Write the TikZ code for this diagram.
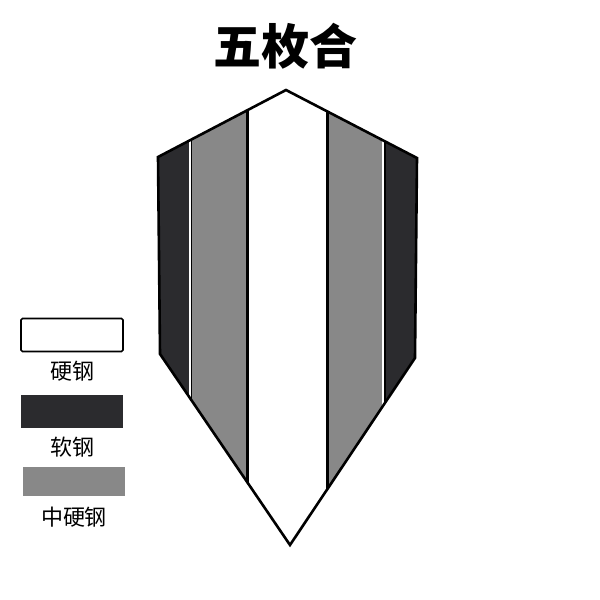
\documentclass[tikz,border=0pt]{standalone}
\usepackage{fontspec}
\newfontfamily\cjk{Noto Sans CJK SC}
\usetikzlibrary{positioning}
\definecolor{softgrey}{HTML}{2B2B2E}
\definecolor{midgrey}{HTML}{888888}
\begin{document}
\begin{tikzpicture}[x=1pt,y=-1pt]

      \tikzset{swatch/.style={minimum width=102pt, minimum height=33pt, inner sep=0pt},
               legendtext/.style={font=\cjk\fontsize{22pt}{24pt}\selectfont, inner sep=0pt},
               seam/.style={draw=black, line width=2.4pt},
               outline/.style={draw=black, line width=2.6pt, line join=miter}}
      \useasboundingbox (0,0) rectangle (600,600);
%% Title
      	\node[font=\cjk\bfseries\fontsize{48pt}{50pt}\selectfont, inner sep=0pt] (title) at (285,46) {五枚合};
%% Blade corners
      	\coordinate (apex) at (286,90);
      	\coordinate (tr) at (417,158);
      	\coordinate (br) at (415,358);
      	\coordinate (tip) at (290,545);
      	\coordinate (bl) at (160,354);
      	\coordinate (tl) at (158,157);
%Strips
	\begin{scope}
		\clip (apex) -- (tr) -- (br) -- (tip) -- (bl) -- (tl) -- cycle;
		\fill[white] (150,80) rectangle (430,560);
		\fill[softgrey] (150,80) rectangle (189,560);
		\fill[midgrey] (192,80) rectangle (246,560);
		\fill[midgrey] (329,80) rectangle (382,560);
		\fill[softgrey] (386,80) rectangle (430,560);
		\foreach \x/\w in {191.5/1.6, 247.5/2.4, 327.5/2.4, 385/2} {
			\draw[seam, line width=\w pt] (\x,80) -- (\x,560);
		}
	\end{scope}
		\draw[outline] (apex) -- (tr) -- (br) -- (tip) -- (bl) -- (tl) -- cycle;
%Legend
      	\node[swatch, draw=black, line width=1.6pt, rounded corners=1.5pt, fill=white,
      	      label={[legendtext, label distance=9pt]below:硬钢}] (hard) at (72,335) {};
      	\node[swatch, fill=softgrey,
      	      label={[legendtext, label distance=9pt]below:软钢}] (soft) at (72,411) {};
      	\node[swatch, minimum height=29pt, fill=midgrey,
      	      label={[legendtext, label distance=11pt]below:中硬钢}] (medium) at (74,481.5) {};

	\end{tikzpicture}
\end{document}
